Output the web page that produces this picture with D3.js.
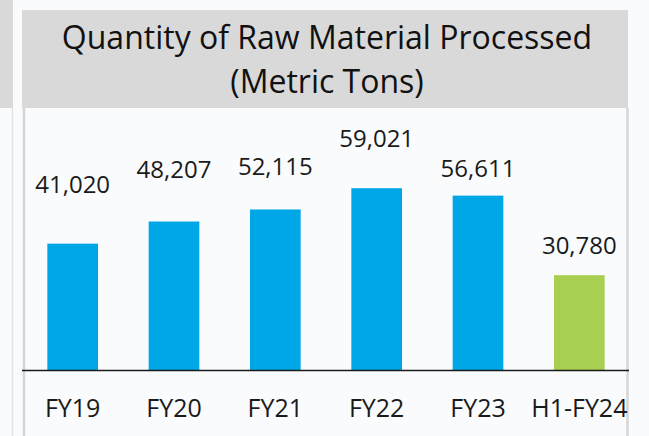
<!DOCTYPE html>
<html>
<head>
<meta charset="utf-8">
<script src="https://cdn.jsdelivr.net/npm/d3@7"></script>
<style>
 body { margin: 0; background: #f9fbfd; }
 svg { display: block; font-family: "Open Sans", sans-serif; }
</style>
</head>
<body>
<svg id="graph"></svg>
<script>
// data
const categories = ["FY19", "FY20", "FY21", "FY22", "FY23", "H1-FY24"];
const values = [41020, 48207, 52115, 59021, 56611, 30780];
const valueLabels = ["41,020", "48,207", "52,115", "59,021", "56,611", "30,780"];
const titleLines = ["Quantity of Raw Material Processed", "(Metric Tons)"];

// label gap above each bar (px), as placed in the original slide
const labelGap = [51, 44, 34, 41, 19, 21];

let width = 649;
let height = 436;
let baseY = 370;

let svg = d3.select("#graph")
 .attr("width", width)
 .attr("height", height);

// background pieces of the slide
svg.append("rect")
 .attr("x", 0).attr("y", 0).attr("width", width).attr("height", height)
 .attr("fill", "#f9fbfd");

// left strip of the neighbour panel
svg.append("rect")
 .attr("x", 0).attr("y", 0).attr("width", 13).attr("height", 108)
 .attr("fill", "#d9d9d9");
svg.append("line")
 .attr("x1", 12.5).attr("y1", 108).attr("x2", 12.5).attr("y2", height)
 .attr("stroke", "#e2e2e2").attr("stroke-width", 1.5);

// title header
svg.append("rect")
 .attr("x", 22).attr("y", 10).attr("width", 606).attr("height", 98)
 .attr("fill", "#d9d9d9");

// panel side borders
svg.append("line")
 .attr("x1", 24).attr("y1", 108).attr("x2", 24).attr("y2", height)
 .attr("stroke", "#d6d6d6").attr("stroke-width", 2.5);
svg.append("line")
 .attr("x1", 627.5).attr("y1", 108).attr("x2", 627.5).attr("y2", height)
 .attr("stroke", "#d6d6d6").attr("stroke-width", 2.5);

svg.selectAll(".title")
 .data(titleLines)
 .enter()
 .append("text")
 .attr("class", "title")
 .attr("x", 327)
 .attr("y", (d, i) => 49 + i * 44)
 .attr("text-anchor", "middle")
 .attr("font-size", 32)
 .attr("fill", "#111")
 .text(d => d);

// scales
let scaleX = d3.scaleBand()
 .domain(categories)
 .range([22, 630])
 .paddingInner(0.5)
 .paddingOuter(0.25);

let scaleY = d3.scaleLinear()
 .domain([0, 100000])
 .range([baseY, baseY - 308]);

// bars
svg.selectAll(".bar")
 .data(values)
 .enter()
 .append("rect")
 .attr("class", "bar")
 .attr("x", (d, i) => scaleX(categories[i]))
 .attr("width", scaleX.bandwidth())
 .attr("y", d => scaleY(d))
 .attr("height", d => baseY - scaleY(d))
 .attr("fill", (d, i) => i == categories.length - 1 ? "#a8cf4f" : "#00a7e6");

// value labels
svg.selectAll(".val")
 .data(values)
 .enter()
 .append("text")
 .attr("class", "val")
 .attr("x", (d, i) => scaleX(categories[i]) + scaleX.bandwidth() / 2)
 .attr("y", (d, i) => scaleY(d) - labelGap[i])
 .attr("text-anchor", "middle")
 .attr("font-size", 24)
 .attr("fill", "#1a1a1a")
 .text((d, i) => valueLabels[i]);

// x axis
let axisX = d3.axisBottom(scaleX).tickSize(0).tickPadding(29);
let gx = svg.append("g")
 .attr("transform", `translate(0, ${baseY})`)
 .call(axisX);
gx.select(".domain")
 .attr("d", "M22,0.5H629")
 .attr("stroke", "#1a1a1a")
 .attr("stroke-width", 1.6);
gx.selectAll("text")
 .attr("font-family", "Open Sans, sans-serif")
 .attr("font-size", 25)
 .attr("fill", "#1a1a1a");
</script>
</body>
</html>
